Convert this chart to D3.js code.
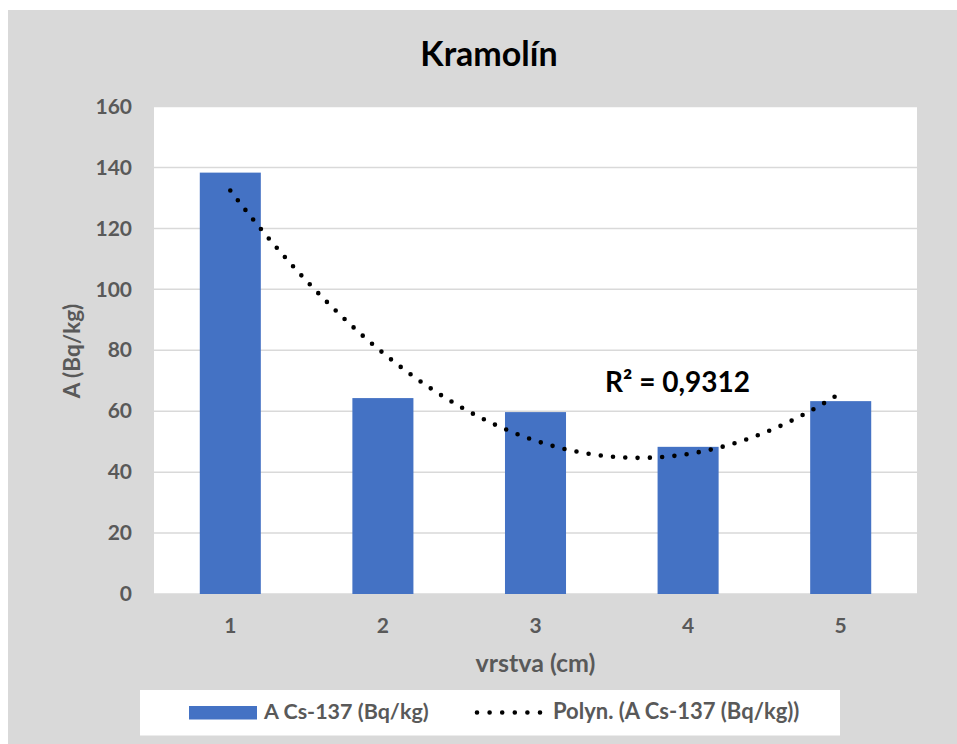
<!DOCTYPE html>
<html>
<head>
<meta charset="utf-8">
<script src="https://cdn.jsdelivr.net/npm/d3@7"></script>
<style>
  html, body { margin: 0; padding: 0; background: #ffffff; }
  svg { display: block; }
  text { font-family: Lato, "Open Sans", sans-serif; font-weight: 700; }
</style>
</head>
<body>
<svg id="chart" width="957" height="744"></svg>
<script>
// Layer (depth, cm) categories and measured Cs-137 activity
const categories = ["1", "2", "3", "4", "5"];
const activity = [138.3, 64.3, 59.7, 48.3, 63.3];
const yTicks = [0, 20, 40, 60, 80, 100, 120, 140, 160];
const chartTitle = "Kramolín";
const xTitle = "vrstva (cm)";
const yTitle = "A (Bq/kg)";
const seriesName = "A Cs-137 (Bq/kg)";
const trendName = "Polyn. (A Cs-137 (Bq/kg))";
const r2Label = "R² = 0,9312";

const svg = d3.select("#chart");
const W = 957, H = 744;

// chart area background
svg.append("rect").attr("x", 8).attr("y", 10).attr("width", W - 8).attr("height", H - 10).attr("fill", "#d9d9d9");

const plot = { left: 154, right: 917, top: 106.5, bottom: 594 };

svg.append("rect")
  .attr("x", plot.left).attr("y", plot.top)
  .attr("width", plot.right - plot.left).attr("height", plot.bottom - plot.top)
  .attr("fill", "#ffffff");

const x = d3.scaleBand().domain(categories).range([plot.left, plot.right]).paddingInner(0.6).paddingOuter(0.3);
const y = d3.scaleLinear().domain([0, 160]).range([plot.bottom, plot.top]);

// horizontal gridlines
svg.append("g").selectAll("line").data(yTicks).join("line")
  .attr("x1", plot.left).attr("x2", plot.right)
  .attr("y1", d => y(d)).attr("y2", d => y(d))
  .attr("stroke", "#d9d9d9").attr("stroke-width", 1.5);

// y axis tick labels
const yAxis = d3.axisLeft(y).tickValues(yTicks).tickSize(0).tickPadding(22);
const gy = svg.append("g").attr("transform", `translate(${plot.left},0)`).call(yAxis);
gy.select(".domain").remove();
gy.selectAll("text").attr("fill", "#595959").attr("font-size", 21).attr("font-family", "Lato, sans-serif").attr("font-weight", 700);

// x axis tick labels
const xAxis = d3.axisBottom(x).tickSize(0).tickPadding(24);
const gx = svg.append("g").attr("transform", `translate(0,${plot.bottom})`).call(xAxis);
gx.select(".domain").remove();
gx.selectAll("text").attr("fill", "#595959").attr("font-size", 21).attr("font-family", "Lato, sans-serif").attr("font-weight", 700);

// bars
svg.append("g").selectAll("rect").data(activity).join("rect")
  .attr("x", (d, i) => x(categories[i]))
  .attr("y", d => y(d))
  .attr("width", x.bandwidth())
  .attr("height", d => y(0) - y(d))
  .attr("fill", "#4472c4");

// second-order polynomial trend (least squares)
function quadFit(xs, ys) {
  const n = xs.length;
  let s = [0, 0, 0, 0, 0], t = [0, 0, 0];
  for (let i = 0; i < n; i++) {
    for (let k = 0; k < 5; k++) s[k] += Math.pow(xs[i], k);
    for (let k = 0; k < 3; k++) t[k] += ys[i] * Math.pow(xs[i], k);
  }
  const M = [[s[0], s[1], s[2], t[0]], [s[1], s[2], s[3], t[1]], [s[2], s[3], s[4], t[2]]];
  for (let c = 0; c < 3; c++) {
    for (let r = c + 1; r < 3; r++) {
      const f = M[r][c] / M[c][c];
      for (let k = c; k < 4; k++) M[r][k] -= f * M[c][k];
    }
  }
  const b = [0, 0, 0];
  for (let r = 2; r >= 0; r--) {
    let v = M[r][3];
    for (let k = r + 1; k < 3; k++) v -= M[r][k] * b[k];
    b[r] = v / M[r][r];
  }
  return v => b[0] + b[1] * v + b[2] * v * v;
}
const xs = categories.map((c, i) => i + 1);
const fit = quadFit(xs, activity);
const xPos = d3.scaleLinear().domain([1, 5]).range([x("1") + x.bandwidth() / 2, x("5") + x.bandwidth() / 2]);
const samples = d3.range(1, 5.0001, 0.02);
svg.append("path")
  .datum(samples)
  .attr("d", d3.line().x(v => xPos(v)).y(v => y(fit(v))).curve(d3.curveLinear))
  .attr("fill", "none")
  .attr("stroke", "#000000")
  .attr("stroke-width", 4.6)
  .attr("stroke-linecap", "round")
  .attr("stroke-dasharray", "0 12.3");

// R² annotation
svg.append("text").attr("x", 605).attr("y", 392).attr("font-size", 28).attr("fill", "#000").text(r2Label);

// title
svg.append("text").attr("x", 489).attr("y", 66).attr("text-anchor", "middle")
  .attr("font-size", 34).attr("fill", "#000").text(chartTitle);

// axis titles
svg.append("text").attr("x", 535.5).attr("y", 672).attr("text-anchor", "middle")
  .attr("font-size", 25).attr("fill", "#595959").text(xTitle);
svg.append("text").attr("transform", "translate(80,351) rotate(-90)").attr("text-anchor", "middle")
  .attr("font-size", 22.5).attr("fill", "#595959").text(yTitle);

// legend
const lg = svg.append("g");
lg.append("rect").attr("x", 140).attr("y", 690).attr("width", 700).attr("height", 45.5).attr("fill", "#ffffff");
lg.append("rect").attr("x", 189).attr("y", 706).attr("width", 68).attr("height", 13.5).attr("fill", "#4472c4");
lg.append("text").attr("x", 264).attr("y", 719).attr("font-size", 21.5).attr("fill", "#595959").text(seriesName);
lg.append("line").attr("x1", 477).attr("x2", 541).attr("y1", 712.5).attr("y2", 712.5)
  .attr("stroke", "#000").attr("stroke-width", 4.6).attr("stroke-linecap", "round").attr("stroke-dasharray", "0 12.6");
lg.append("text").attr("x", 553).attr("y", 719).attr("font-size", 22).attr("fill", "#595959").text(trendName);
</script>
</body>
</html>
